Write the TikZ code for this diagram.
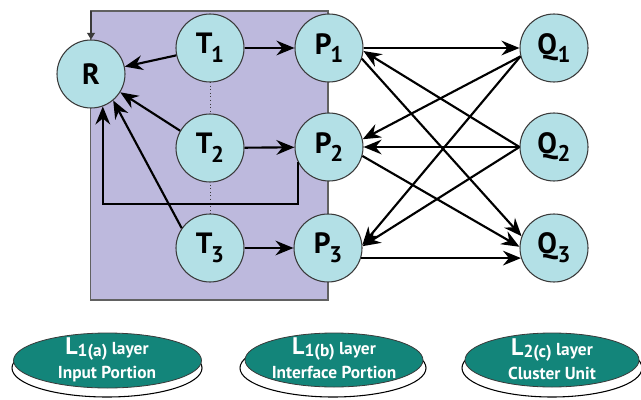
\documentclass[tikz,border=0pt]{standalone}
\usepackage{fontspec}
\setmainfont{PT Sans}
\usetikzlibrary{arrows.meta,shapes.geometric}
\definecolor{circfill}{HTML}{B3E0E6}
\definecolor{rectfill}{HTML}{BDB9DD}
\definecolor{tealfill}{HTML}{13857A}
\definecolor{edgegray}{HTML}{3A3A3A}
\newcommand\sbs[1]{\raisebox{-0.3em}{\fontsize{17}{17}\selectfont #1}}
\newcommand\lsub[1]{\raisebox{-0.12em}{\fontsize{13}{13}\selectfont #1}}
\begin{document}
\begin{tikzpicture}[x=0.75pt,y=-0.75pt,
  unit/.style={circle, draw=edgegray, line width=0.8pt, fill=circfill, minimum size=51pt, inner sep=0pt, font=\bfseries\fontsize{22}{22}\selectfont},
  arr/.style={line width=1.6pt, -{Stealth[length=13.5pt,width=11pt,inset=4.5pt]}},
  smallarr/.style={draw=edgegray, line width=0.8pt, -{Triangle[length=5pt,width=6pt]}},
  layerfill/.style={draw=edgegray, line width=0.6pt, fill=tealfill},
  layershadow/.style={draw=black, line width=0.8pt, fill=white},
  layertext/.style={text=white, align=center, font=\bfseries\fontsize{13}{18}\selectfont}
]
\useasboundingbox (0,0) rectangle (641,399);
% panel
\draw[draw=edgegray!80, line width=0.8pt, fill=rectfill] (90.5,11) rectangle (328,300);
\coordinate (corner) at (91,11);
% dotted links
\coordinate (t1s) at (210,82);
\coordinate (t2n) at (210,115);
\coordinate (t2s) at (210,181);
\coordinate (t3n) at (210,216);
\draw[dotted, line width=0.7pt, edgegray] (t1s) -- (t2n);
\draw[dotted, line width=0.7pt, edgegray] (t2s) -- (t3n);
% nodes
\node[unit] (R) at (91,74) {R};
\node[unit] (T1) at (210,48) {T\kern-1pt\sbs{1}};
\node[unit] (T2) at (210,148) {T\kern-1pt\sbs{2}};
\node[unit] (T3) at (210,248) {T\kern-1pt\sbs{3}};
\node[unit] (P1) at (329,48) {P\kern-1pt\sbs{1}};
\node[unit] (P2) at (329,147) {P\kern-1pt\sbs{2}};
\node[unit] (P3) at (328,248) {P\kern-1pt\sbs{3}};
\node[unit] (Q1) at (554,48) {Q\kern0.5pt\sbs{1}};
\node[unit] (Q2) at (554,147) {Q\kern0.5pt\sbs{2}};
\node[unit] (Q3) at (554,248) {Q\kern0.5pt\sbs{3}};
% arrows into R
\draw[smallarr] (corner) -- (R.north);
\draw[arr] (T1) -- (R);
\draw[arr] (T2.150) -- (R.-32);
\draw[arr] (T3.145) -- (R.-50);
\draw[arr] (P2.205) -- ++(0,42) -| (R.-70);
% T to P
\draw[arr] (T1) -- (P1);
\draw[arr] (T2) -- (P2);
\draw[arr] (T3) -- (P3);
% P/Q crossings
\draw[arr] (P1.east) -- (Q1.west);
\draw[arr] (P1.-18) -- (Q3.160);
\draw[arr] (Q1.194) -- (P2.13);
\draw[arr] (Q1.194) -- (P3.5);
\draw[arr] (Q2.west) -- (P1.-5);
\draw[arr] (Q2.west) -- (P2.east);
\draw[arr] (Q2.west) -- (P3.3);
\draw[arr] (P2.-15) -- (Q3.178);
\draw[arr] (P3.-17) -- (Q3.197);
% layer labels
\draw[layershadow] (107,368) ellipse [x radius=95, y radius=29];
\draw[layerfill] (107.5,360.5) ellipse [x radius=94, y radius=27.5];
\node[layertext] (La) at (107,360) {{\fontsize{18}{18}\selectfont L}\lsub{1(a)} layer\\Input Portion};
\draw[layershadow] (333,368) ellipse [x radius=93, y radius=29];
\draw[layerfill] (334,360) ellipse [x radius=89, y radius=27];
\node[layertext] (Lb) at (334,358) {{\fontsize{18}{18}\selectfont L}\lsub{1(b)} layer\\Interface Portion};
\draw[layershadow] (552,368) ellipse [x radius=90, y radius=29];
\draw[layerfill] (552,360) ellipse [x radius=87, y radius=27];
\node[layertext] (Lc) at (552,359) {{\fontsize{18}{18}\selectfont L}\lsub{2(c)} layer\\Cluster Unit};
\end{tikzpicture}
\end{document}
